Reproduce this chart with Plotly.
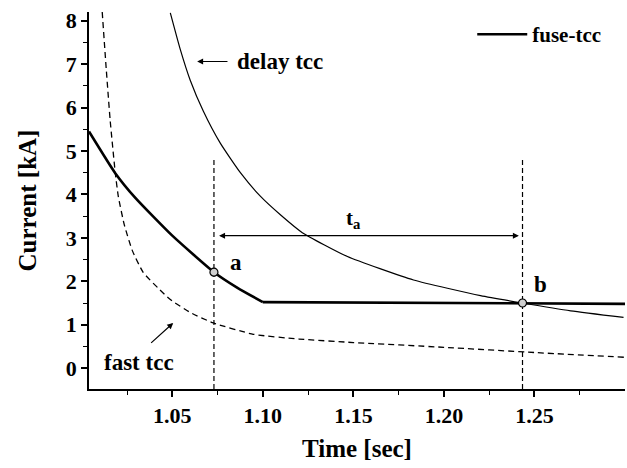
import plotly.graph_objects as go

# ---- data ----
fuse_curve_t = [1.004, 1.0185, 1.0296, 1.05, 1.073, 1.086, 1.10]
fuse_curve_i = [5.45, 4.49, 3.92, 3.05, 2.21, 1.85, 1.52]
fuse_flat_t = [1.10, 1.2434, 1.30]
fuse_flat_i = [1.52, 1.50, 1.48]

delay_t = [1.0489, 1.0544, 1.0599, 1.0671, 1.0765, 1.0876, 1.0986, 1.110, 1.1218, 1.1467, 1.1832, 1.2202, 1.2434, 1.270, 1.2992]
delay_i = [8.18, 7.34, 6.63, 5.92, 5.18, 4.50, 3.96, 3.52, 3.12, 2.57, 2.03, 1.67, 1.50, 1.32, 1.17]

fast_t = [1.0113, 1.0135, 1.0157, 1.0185, 1.0202, 1.0235, 1.028, 1.034, 1.042, 1.0489, 1.060, 1.0727, 1.0947, 1.12, 1.15, 1.20, 1.25, 1.30]
fast_i = [8.20, 6.90, 5.70, 4.50, 3.95, 3.30, 2.70, 2.20, 1.85, 1.58, 1.28, 1.04, 0.78, 0.67, 0.59, 0.48, 0.36, 0.25]

pt_labels = ["a", "b"]
pt_t = [1.073, 1.2434]
pt_i = [2.21, 1.50]

x_ticks = [1.05, 1.10, 1.15, 1.20, 1.25]
x_ticklabels = ["1.05", "1.10", "1.15", "1.20", "1.25"]
y_ticks = [0, 1, 2, 3, 4, 5, 6, 7, 8]

FONT = "Liberation Serif"

fig = go.Figure()

fig.add_trace(go.Scatter(x=fast_t, y=fast_i, mode="lines", showlegend=False,
                         line=dict(color="black", width=1.3, dash="6px,4px", shape="spline", smoothing=0.5)))
fig.add_trace(go.Scatter(x=delay_t, y=delay_i, mode="lines", showlegend=False,
                         line=dict(color="black", width=1.2, shape="spline", smoothing=0.5)))
fig.add_trace(go.Scatter(x=fuse_curve_t, y=fuse_curve_i, mode="lines", showlegend=False,
                         legendgroup="fuse", line=dict(color="black", width=2.6, shape="spline", smoothing=0.5)))
fig.add_trace(go.Scatter(x=fuse_flat_t, y=fuse_flat_i, mode="lines", name="fuse-tcc",
                         legendgroup="fuse", line=dict(color="black", width=2.6)))
fig.add_trace(go.Scatter(x=pt_t, y=pt_i, mode="markers", showlegend=False,
                         marker=dict(size=8, color="#d0d0d0", line=dict(color="black", width=1.2))))

# vertical dashed lines at points a and b
for t in pt_t:
    fig.add_shape(type="line", x0=t, x1=t, y0=-0.48, y1=4.8, xref="x", yref="y",
                  line=dict(color="black", width=1.2, dash="5px,3px"), layer="below")

ann_font = dict(family=FONT, size=23, color="black", weight="bold")

# point labels
fig.add_annotation(x=pt_t[0], y=pt_i[0], text=pt_labels[0], showarrow=False,
                   xshift=22, yshift=10, font=ann_font)
fig.add_annotation(x=pt_t[1], y=pt_i[1], text=pt_labels[1], showarrow=False,
                   xshift=18, yshift=19, font=ann_font)

# t_a double arrow
fig.add_annotation(x=pt_t[1] - 0.002, y=3.05, ax=pt_t[0] + 0.002, ay=3.05, xref="x", yref="y",
                   axref="x", ayref="y", text="", showarrow=True, arrowhead=2,
                   arrowside="end+start", arrowsize=1, arrowwidth=1.2, arrowcolor="black")
fig.add_annotation(x=1.150, y=3.05, text="t<sub>a</sub>", showarrow=False,
                   yshift=17, font=dict(family=FONT, size=21, color="black", weight="bold"))

# delay tcc label + arrow
fig.add_annotation(x=1.0637, y=7.06, ax=1.0813, ay=7.06, xref="x", yref="y", axref="x", ayref="y",
                   text="", showarrow=True, arrowhead=2, arrowsize=1, arrowwidth=1.2, arrowcolor="black")
fig.add_annotation(x=1.0848, y=7.06, text="delay tcc", showarrow=False, xanchor="left", font=ann_font)

# fast tcc label + arrow
fig.add_annotation(x=1.0505, y=1.04, ax=1.0375, ay=0.55, xref="x", yref="y", axref="x", ayref="y",
                   text="", showarrow=True, arrowhead=2, arrowsize=1, arrowwidth=1.2, arrowcolor="black")
fig.add_annotation(x=1.0110, y=0.14, text="fast tcc", showarrow=False, xanchor="left", font=ann_font)

tick_font = dict(family=FONT, size=22, color="black", weight="bold")
title_font = dict(family=FONT, size=25, color="black", weight="bold")

fig.update_layout(
    width=627, height=468,
    margin=dict(l=89, r=2, t=12, b=79),
    paper_bgcolor="white", plot_bgcolor="white",
    showlegend=True,
    legend=dict(x=0.715, y=0.94, xanchor="left", yanchor="middle", bgcolor="rgba(0,0,0,0)",
                font=dict(family=FONT, size=21, color="black", weight="bold"),
                itemwidth=50, tracegroupgap=0),
    xaxis=dict(range=[1.004, 1.30], tickvals=x_ticks, ticktext=x_ticklabels,
               showgrid=False, zeroline=False, showline=True, linecolor="black", linewidth=1.5,
               ticks="outside", ticklen=6, tickwidth=1.5, tickcolor="black",
               minor=dict(dtick=0.05, tick0=1.025, ticks="outside", ticklen=4, tickwidth=1.2, tickcolor="black"),
               tickfont=tick_font,
               title=dict(text="Time [sec]", font=title_font, standoff=12)),
    yaxis=dict(range=[-0.48, 8.2], tickvals=y_ticks,
               showgrid=False, zeroline=False, showline=True, linecolor="black", linewidth=1.5,
               ticks="outside", ticklen=6, tickwidth=1.5, tickcolor="black",
               minor=dict(dtick=0.5, tick0=0.5, ticks="outside", ticklen=4, tickwidth=1.2, tickcolor="black"),
               tickfont=tick_font,
               title=dict(text="Current [kA]", font=title_font, standoff=22)),
)

fig.write_html("out.html")
